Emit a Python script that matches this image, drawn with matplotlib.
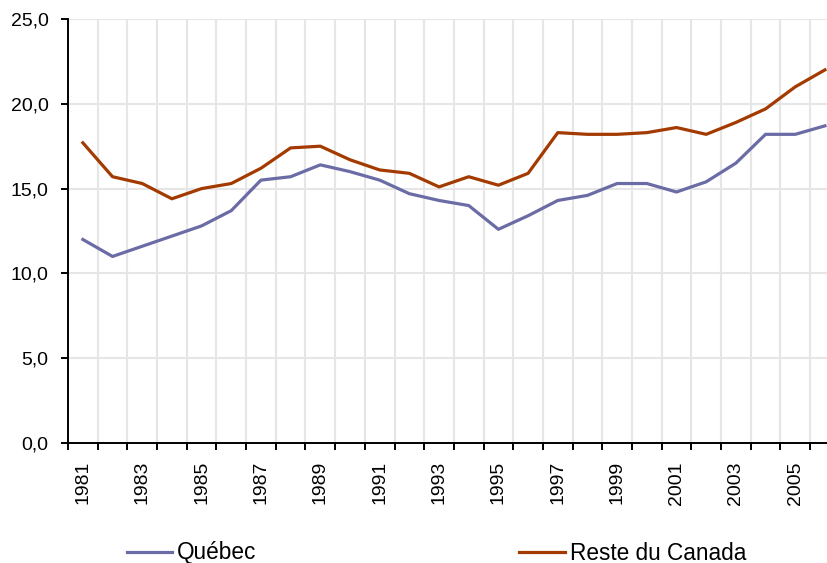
import matplotlib.pyplot as plt
from matplotlib.ticker import FixedLocator, FuncFormatter

plt.rcParams['font.family'] = ['Liberation Sans', 'DejaVu Sans']

years = list(range(1981, 2007))
quebec = [12.0, 11.0, 11.6, 12.2, 12.8, 13.7, 15.5, 15.7, 16.4, 16.0, 15.5, 14.7, 14.3,
          14.0, 12.6, 13.4, 14.3, 14.6, 15.3, 15.3, 14.8, 15.4, 16.5, 18.2, 18.2, 18.7]
reste_canada = [17.7, 15.7, 15.3, 14.4, 15.0, 15.3, 16.2, 17.4, 17.5, 16.7, 16.1, 15.9, 15.1,
                15.7, 15.2, 15.9, 18.3, 18.2, 18.2, 18.3, 18.6, 18.2, 18.9, 19.7, 21.0, 22.0]
series_names = ['Québec', 'Reste du Canada']
series_colors = ['#6B6BA6', '#A33A00']
y_ticks = [0, 5, 10, 15, 20, 25]
grid_color = '#E6E6E6'


def setup_axes(axes):
    axes.set_xlim(1980.5, 2006.07)
    axes.set_ylim(0, 25)

    for side in ('top', 'right'):
        axes.spines[side].set_visible(False)
    for side in ('left', 'bottom'):
        axes.spines[side].set_linewidth(1.4)
        axes.spines[side].set_color('black')

    axes.set_yticks(y_ticks)
    axes.yaxis.set_major_formatter(FuncFormatter(lambda v, p: f'{v:.1f}'.replace('.', ',')))
    axes.tick_params(axis='y', length=5, width=1.4, pad=9, labelsize=14, colors='black')
    axes.grid(axis='y', color=grid_color, linewidth=1.5)

    # labels on odd years, tick marks and grid on category boundaries
    axes.xaxis.set_major_locator(FixedLocator(years[::2]))
    axes.set_xticklabels([str(y) for y in years[::2]], rotation=90)
    axes.tick_params(axis='x', which='major', length=0, pad=13, labelsize=14)
    axes.xaxis.set_minor_locator(FixedLocator([y - 0.5 for y in years] + [years[-1] + 0.5]))
    axes.tick_params(axis='x', which='minor', length=5, width=1.4, color='black')
    axes.grid(axis='x', which='minor', color=grid_color, linewidth=1.5)
    axes.set_axisbelow(True)


def main():
    fig = plt.figure(figsize=(8.27, 5.63), dpi=100)
    axes = fig.add_axes([68 / 827, 1 - 443 / 563, 1 - 68 / 827, (443 - 19) / 563])
    setup_axes(axes)

    for values, name, color in zip([quebec, reste_canada], series_names, series_colors):
        axes.plot(years, values, color=color, linewidth=2.3, label=name, clip_on=False)

    fig.legend(loc='center left', bbox_to_anchor=(127 / 827, 1 - 553 / 563), ncol=2,
               frameon=False, fontsize=16.3, handlelength=2.0, handletextpad=0.22,
               columnspacing=11.6, borderpad=0, borderaxespad=0)

    fig.savefig('out.png', dpi=100)


if __name__ == '__main__':
    main()
